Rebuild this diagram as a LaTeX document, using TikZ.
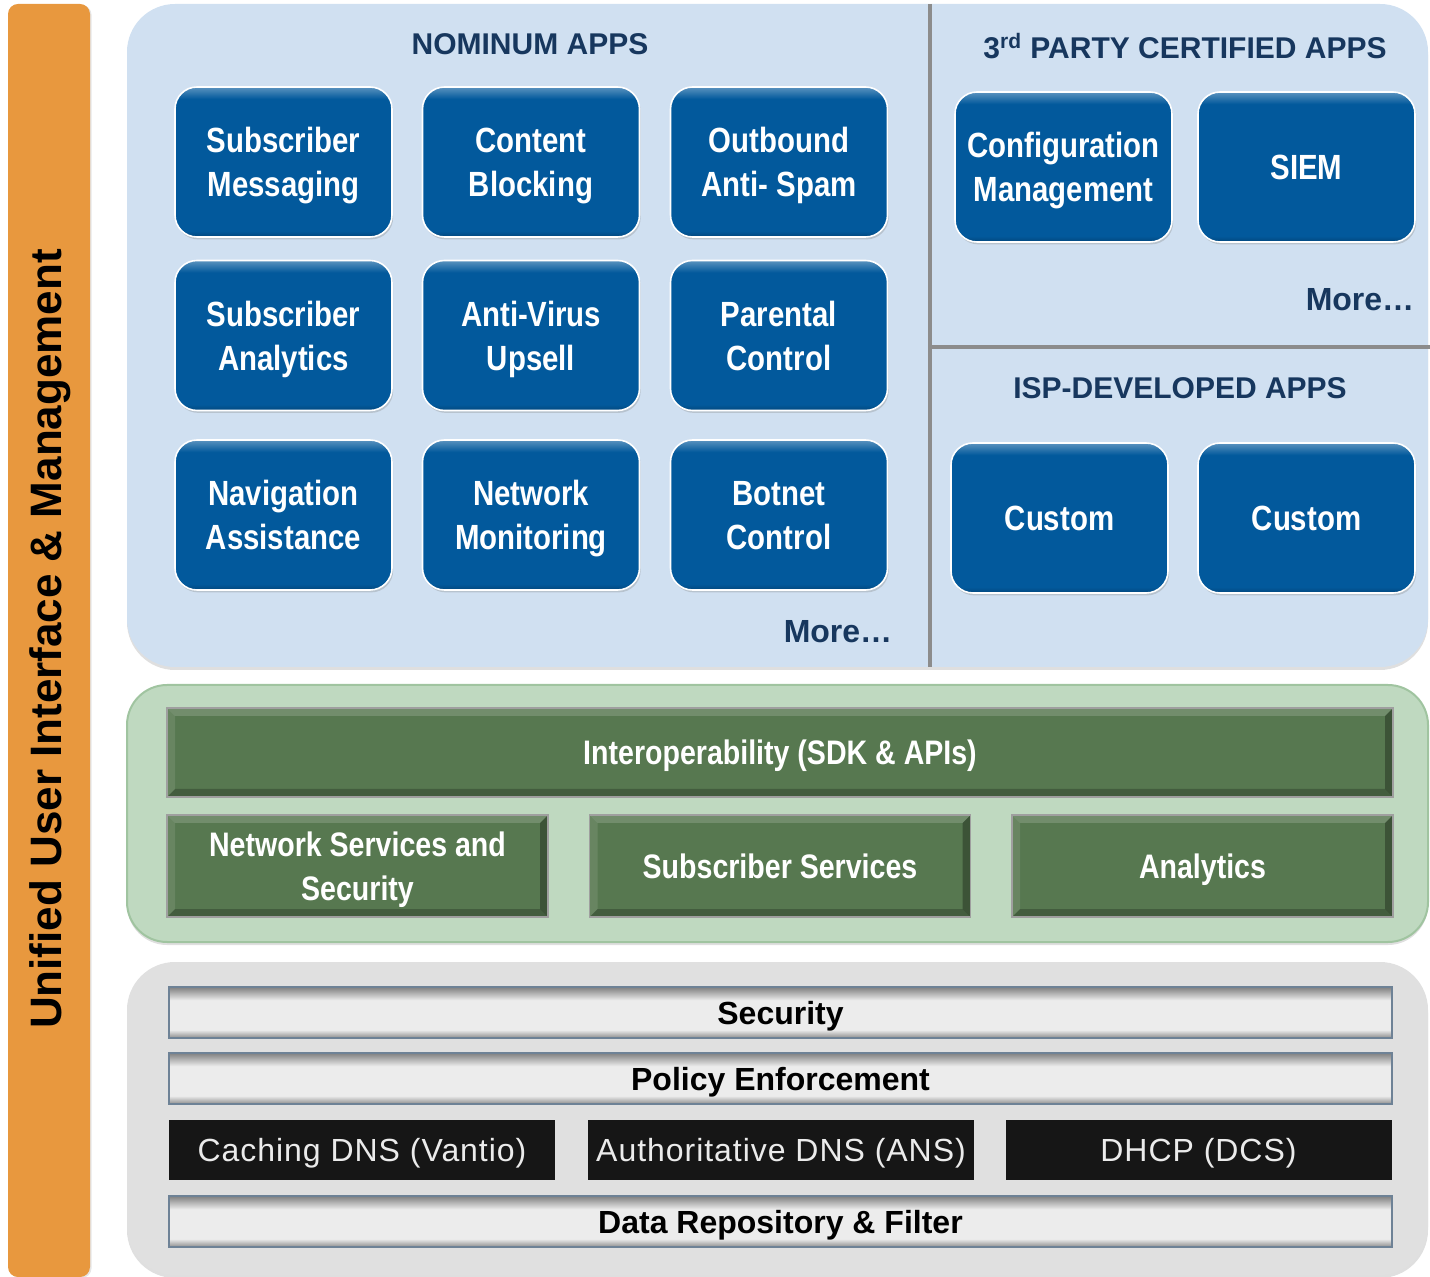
\documentclass[tikz,border=0pt]{standalone}
\usepackage{fontspec}
\setmainfont{Liberation Sans}
\newfontfamily\narrowfont{Liberation Sans}[FakeStretch=0.84]
\newfontfamily\spacedfont{Liberation Sans}[LetterSpace=3]
\usetikzlibrary{shadows}
\definecolor{uiorange}{RGB}{232,152,62}
\definecolor{appspanel}{RGB}{208,224,241}
\definecolor{appblue}{RGB}{2,89,156}
\definecolor{titlenavy}{RGB}{23,55,94}
\definecolor{sdkpanel}{RGB}{191,217,192}
\definecolor{sdkrim}{RGB}{160,196,160}
\definecolor{sdkgreen}{RGB}{87,120,80}
\definecolor{corepanel}{RGB}{224,224,224}
\definecolor{corelight}{RGB}{236,236,236}
\definecolor{corerim}{RGB}{110,130,150}
\definecolor{dnsblack}{RGB}{22,22,22}
\definecolor{splitgray}{RGB}{140,140,140}
%% the shaded path sits on 25bp..75bp of a shading
\pgfdeclareverticalshading{appshade}{100bp}{color(0bp)=(appblue!80!black); color(25bp)=(appblue!80!black);
  color(27bp)=(appblue); color(71bp)=(appblue); color(75bp)=(appblue!65!white); color(100bp)=(appblue!65!white)}
\pgfdeclareverticalshading{coreshade}{100bp}{color(0bp)=(black!45); color(25bp)=(black!45); color(33bp)=(corelight);
  color(62bp)=(corelight); color(75bp)=(black!50); color(100bp)=(black!50)}
\begin{document}
\begin{tikzpicture}
[x=0.5pt,y=-0.5pt,
 paneldecorate/.style={rounded corners=24pt,drop shadow={opacity=0.25,shadow xshift=0pt,shadow yshift=-1.5pt}},
 titledecorate/.style={text=titlenavy,font=\bfseries\fontsize{15}{18}\selectfont},
 moredecorate/.style={text=titlenavy,font=\bfseries\fontsize{16}{19}\selectfont},
 appdecorate/.style={shape=rectangle,rounded corners=11pt,shading=appshade,draw=white,line width=0.8pt,
   text=white,align=center,inner sep=0pt,minimum width=108.5pt,minimum height=75pt,text depth=0pt,
   font=\narrowfont\bfseries\fontsize{17.5}{22}\selectfont,
   drop shadow={opacity=0.3,shadow xshift=0.6pt,shadow yshift=-1.2pt}},
 sdkdecorate/.style={shape=rectangle,fill=sdkgreen,draw=gray!75,line width=0.8pt,
   text=white,align=center,inner sep=0pt,text depth=0pt,
   font=\narrowfont\bfseries\fontsize{17}{22}\selectfont,
   path picture={
     \fill[white,opacity=0.16] (path picture bounding box.north west) -- (path picture bounding box.north east)
       -- ([shift={(-4pt,-4pt)}]path picture bounding box.north east) -- ([shift={(4pt,-4pt)}]path picture bounding box.north west) -- cycle;
     \fill[white,opacity=0.10] (path picture bounding box.north west) -- (path picture bounding box.south west)
       -- ([shift={(4pt,4pt)}]path picture bounding box.south west) -- ([shift={(4pt,-4pt)}]path picture bounding box.north west) -- cycle;
     \fill[black,opacity=0.30] (path picture bounding box.north east) -- (path picture bounding box.south east)
       -- ([shift={(-4pt,4pt)}]path picture bounding box.south east) -- ([shift={(-4pt,-4pt)}]path picture bounding box.north east) -- cycle;
     \fill[black,opacity=0.22] (path picture bounding box.south west) -- (path picture bounding box.south east)
       -- ([shift={(-4pt,4pt)}]path picture bounding box.south east) -- ([shift={(4pt,4pt)}]path picture bounding box.south west) -- cycle;}},
 coredecorate/.style={shape=rectangle,shading=coreshade,draw=corerim,line width=0.6pt,
   inner sep=0pt,minimum width=611.5pt,minimum height=25.5pt,text depth=0pt,
   font=\bfseries\fontsize{16}{19}\selectfont},
 dnsdecorate/.style={shape=rectangle,fill=dnsblack,text=white!92!black,inner sep=0pt,text depth=0pt,
   minimum width=193pt,minimum height=30pt,font=\spacedfont\fontsize{16}{19}\selectfont},
 splitdecorate/.style={draw=splitgray,line width=2pt}]
\useasboundingbox (0,0) rectangle (1430,1277);
%% side bar
\fill[uiorange,rounded corners=5pt,drop shadow={opacity=0.2,shadow xshift=0.8pt,shadow yshift=-0.5pt}]
  (8,4) rectangle (90,1277);
\node (uilabel) at (50,639) [rotate=90,font=\bfseries\fontsize{22}{26}\selectfont] {Unified User Interface \& Management};
%% panels
\fill[appspanel,paneldecorate] (127,4) rectangle (1428,667);
\fill[sdkpanel,paneldecorate,draw=sdkrim,line width=1pt,rounded corners=20pt] (127,685) rectangle (1428,942);
\fill[corepanel,paneldecorate] (127,962) rectangle (1428,1275);
%% app area split
\coordinate (splittop) at (930,4);
\coordinate (splitbottom) at (930,667);
\coordinate (splitmid) at (930,347);
\coordinate (splitright) at (1430,347);
\draw[splitdecorate] (splittop) -- (splitbottom);
\draw[splitdecorate] (splitmid) -- (splitright);
%% titles
\node (nominum) at (530,44) [titledecorate] {NOMINUM APPS};
\node (thirdparty) at (1185,46) [titledecorate] {3\textsuperscript{rd} PARTY CERTIFIED APPS};
\node (ispdev) at (1180,388) [titledecorate] {ISP-DEVELOPED APPS};
\node (moreleft) at (838,632) [moredecorate] {More…};
\node (moreright) at (1360,300) [moredecorate] {More…};
%% app boxes
\foreach \nodename/\x/\y/\txt in {submsg/283.5/162/{Subscriber\\Messaging}, block/531/162/{Content\\Blocking},
  spam/779/162/{Outbound\\Anti- Spam}, subana/283.5/335.5/{Subscriber\\Analytics}, virus/531/335.5/{Anti-Virus\\Upsell},
  parent/779/335.5/{Parental\\Control}, navig/283.5/515/{Navigation\\Assistance}, netmon/531/515/{Network\\Monitoring},
  botnet/779/515/{Botnet\\Control}, config/1063.5/167/{Configuration\\Management}, siem/1306.5/167/{SIEM},
  customa/1059.5/518/{Custom}, customb/1306.5/518/{Custom}} {
  \node (\nodename) at (\x,\y) [appdecorate] {\txt};
}
%% interoperability layer
\node (sdk) at (780,752.5) [sdkdecorate,minimum width=613pt,minimum height=44.5pt] {Interoperability (SDK \& APIs)};
\foreach \nodename/\x/\txt in {netsec/357.5/{Network Services and\\Security}, subsvc/780/{Subscriber Services},
  analytics/1202.5/{Analytics}} {
  \node (\nodename) at (\x,866) [sdkdecorate,minimum width=190.5pt,minimum height=51pt] {\txt};
}
%% core layer
\node (security) at (780.5,1012.5) [coredecorate] {Security};
\node (policy) at (780.5,1078.5) [coredecorate] {Policy Enforcement};
\node (datarepo) at (780.5,1221.5) [coredecorate] {Data Repository \& Filter};
\foreach \nodename/\x/\txt in {caching/362/{Caching DNS (Vantio)}, authdns/781/{Authoritative DNS (ANS)},
  dhcp/1198.5/{DHCP (DCS)}} {
  \node (\nodename) at (\x,1150) [dnsdecorate] {\txt};
}
\end{tikzpicture}
\end{document}
